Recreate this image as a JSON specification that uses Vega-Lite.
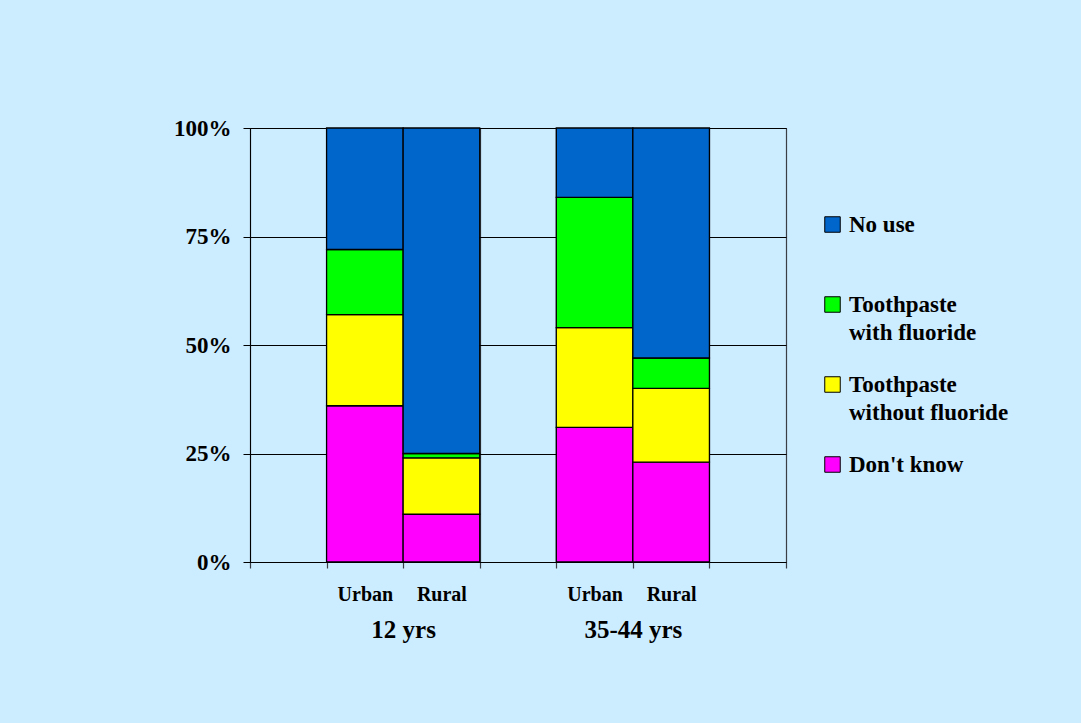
{
  "$schema": "https://vega.github.io/schema/vega-lite/v6.json",
  "width": 536,
  "height": 434,
  "autosize": "none",
  "padding": {"left": 250, "top": 128, "right": 295, "bottom": 161},
  "background": "#CCECFF",
  "config": {
    "view": {"stroke": "#000000", "strokeWidth": 1},
    "font": "Liberation Serif",
    "style": {"guide-label": {"lineHeight": 28}}
  },
  "data": {
    "values": [
      {"age": "12 yrs", "area": "Urban", "use": "Don't know", "pct": 36},
      {"age": "12 yrs", "area": "Urban", "use": "Toothpaste without fluoride", "pct": 21},
      {"age": "12 yrs", "area": "Urban", "use": "Toothpaste with fluoride", "pct": 15},
      {"age": "12 yrs", "area": "Urban", "use": "No use", "pct": 28},
      {"age": "12 yrs", "area": "Rural", "use": "Don't know", "pct": 11},
      {"age": "12 yrs", "area": "Rural", "use": "Toothpaste without fluoride", "pct": 13},
      {"age": "12 yrs", "area": "Rural", "use": "Toothpaste with fluoride", "pct": 1},
      {"age": "12 yrs", "area": "Rural", "use": "No use", "pct": 75},
      {"age": "35-44 yrs", "area": "Urban", "use": "Don't know", "pct": 31},
      {"age": "35-44 yrs", "area": "Urban", "use": "Toothpaste without fluoride", "pct": 23},
      {"age": "35-44 yrs", "area": "Urban", "use": "Toothpaste with fluoride", "pct": 30},
      {"age": "35-44 yrs", "area": "Urban", "use": "No use", "pct": 16},
      {"age": "35-44 yrs", "area": "Rural", "use": "Don't know", "pct": 23},
      {"age": "35-44 yrs", "area": "Rural", "use": "Toothpaste without fluoride", "pct": 17},
      {"age": "35-44 yrs", "area": "Rural", "use": "Toothpaste with fluoride", "pct": 7},
      {"age": "35-44 yrs", "area": "Rural", "use": "No use", "pct": 53}
    ]
  },
  "layer": [
    {
      "transform": [
        {"calculate": "datum.age + '|' + datum.area", "as": "slot"},
        {"calculate": "indexof(['Don\\'t know', 'Toothpaste without fluoride', 'Toothpaste with fluoride', 'No use'], datum.use)", "as": "k"}
      ],
      "mark": {"type": "bar", "stroke": "#000000", "strokeWidth": 1.3},
      "encoding": {
        "x": {
          "field": "slot",
          "type": "nominal",
          "sort": null,
          "scale": {
            "domain": ["s0", "12 yrs|Urban", "12 yrs|Rural", "s3", "35-44 yrs|Urban", "35-44 yrs|Rural", "s6"],
            "paddingInner": 0,
            "paddingOuter": 0
          },
          "axis": {
            "title": null,
            "orient": "bottom",
            "labelExpr": "isString(datum.value) && indexof(datum.value, '|') > 0 ? split(datum.value, '|')[1] : ''",
            "labelAngle": 0,
            "tickBand": "extent",
            "grid": true,
            "gridColor": "#3a3f45",
            "gridWidth": 1.2,
            "gridOpacity": 1,
            "ticks": true,
            "tickColor": "#3a3f45",
            "tickSize": 6,
            "tickWidth": 1.2,
            "domain": true,
            "domainColor": "#000000",
            "labelFont": "Liberation Serif",
            "labelFontSize": 20,
            "labelFontWeight": "bold",
            "labelColor": "#000000",
            "labelPadding": 16
          }
        },
        "y": {
          "field": "pct",
          "type": "quantitative",
          "stack": "zero",
          "scale": {"domain": [0, 100], "nice": false},
          "axis": {
            "title": null,
            "values": [0, 25, 50, 75, 100],
            "labelExpr": "datum.value + '%'",
            "grid": true,
            "gridColor": "#000000",
            "gridOpacity": 1,
            "gridWidth": 1,
            "tickColor": "#000000",
            "tickSize": 7,
            "domainColor": "#000000",
            "labelFont": "Liberation Serif",
            "labelFontSize": 23,
            "labelFontWeight": "bold",
            "labelColor": "#000000",
            "labelPadding": 12
          }
        },
        "color": {
          "field": "use",
          "type": "nominal",
          "scale": {
            "domain": ["No use", "Toothpaste with fluoride", "Toothpaste without fluoride", "Don't know"],
            "range": ["#0066CC", "#00FF00", "#FFFF00", "#FF00FF"]
          },
          "legend": {
            "title": null,
            "orient": "none",
            "legendX": 571,
            "legendY": 85,
            "padding": 0,
            "symbolType": "square",
            "symbolSize": 240,
            "symbolStrokeColor": "#000000",
            "symbolStrokeWidth": 1,
            "symbolOpacity": 1,
            "gridAlign": "all",
            "rowPadding": 28,
            "labelOffset": 5,
            "labelLimit": 300,
            "labelFont": "Liberation Serif",
            "labelFontSize": 23,
            "labelFontWeight": "bold",
            "labelColor": "#000000",
            "labelExpr": "isString(datum.label) ? split(replace(datum.label, 'Toothpaste ', 'Toothpaste|'), '|') : datum.label"
          }
        },
        "order": {"field": "k", "type": "quantitative"}
      }
    },
    {
      "data": {"values": [{"age": "12 yrs"}, {"age": "35-44 yrs"}]},
      "mark": {"type": "point", "opacity": 0},
      "encoding": {
        "x": {
          "field": "age",
          "type": "nominal",
          "sort": null,
          "scale": {"type": "point", "padding": 0.6667},
          "axis": {
            "title": null,
            "orient": "bottom",
            "labelAngle": 0,
            "grid": false,
            "ticks": false,
            "domain": false,
            "labelFont": "Liberation Serif",
            "labelFontSize": 25,
            "labelFontWeight": "bold",
            "labelColor": "#000000",
            "labelPadding": 55
          }
        },
        "y": {"datum": 50, "type": "quantitative"}
      }
    }
  ],
  "resolve": {"scale": {"x": "independent"}}
}
